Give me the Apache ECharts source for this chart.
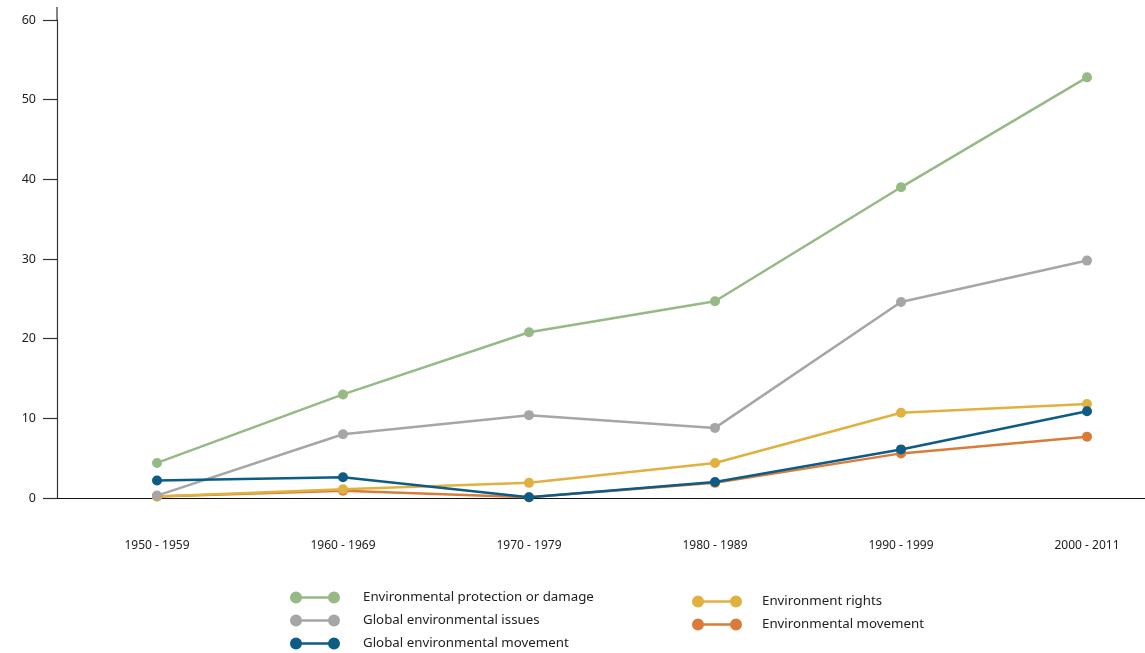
<!DOCTYPE html>
<html>
<head>
<meta charset="utf-8">
<title>Environmental topics by decade</title>
<script src="https://cdn.jsdelivr.net/npm/echarts@6/dist/echarts.min.js"></script>
<style>
  html, body { margin: 0; padding: 0; background: #fff; }
  #chart { width: 1145px; height: 653px; }
</style>
</head>
<body>
<div id="chart"></div>
<script>
// Decades on the horizontal axis
const decades = ['1950 - 1959', '1960 - 1969', '1970 - 1979', '1980 - 1989', '1990 - 1999', '2000 - 2011'];

// Counts per decade for each topic
const protectionOrDamage = [4.4, 13.0, 20.8, 24.7, 39.0, 52.8];
const globalIssues       = [0.3, 8.0, 10.4, 8.8, 24.6, 29.8];
const globalMovement     = [2.2, 2.6, 0.1, 2.0, 6.1, 10.9];
const environmentRights  = [0.2, 1.1, 1.9, 4.4, 10.7, 11.8];
const envMovement        = [0.2, 0.9, 0.1, 1.9, 5.6, 7.7];

const yTicks = { min: 0, max: 60, interval: 10 };

const names = {
  protection: 'Environmental protection or damage',
  issues: 'Global environmental issues',
  gmove: 'Global environmental movement',
  rights: 'Environment rights',
  emove: 'Environmental movement'
};

const colors = {
  protection: '#96b985',
  issues: '#a6a6a6',
  gmove: '#0d5c86',
  rights: '#e0b13f',
  emove: '#da7b3a'
};

// Legend glyph: a short bar with a dot at each end
const legendIcon = 'path://M0,6A6,6 0 1,1 12,6A6,6 0 1,1 0,6Z M38,6A6,6 0 1,1 50,6A6,6 0 1,1 38,6Z M6,4.7L44,4.7L44,7.3L6,7.3Z';

function lineSeries(name, data, color, z) {
  return {
    name: name,
    type: 'line',
    xAxisIndex: 1,
    yAxisIndex: 1,
    data: data,
    symbol: 'circle',
    symbolSize: 10,
    z: z,
    lineStyle: { color: color, width: 2.5 },
    itemStyle: { color: color },
    emphasis: { disabled: true },
    animation: false
  };
}

const chart = echarts.init(document.getElementById('chart'), null, { renderer: 'canvas' });

const GRID_TOP = 20, GRID_BOTTOM = 155;

chart.setOption({
  backgroundColor: '#ffffff',
  textStyle: { fontFamily: '"Noto Sans", "Open Sans", sans-serif' },
  grid: [
    // frame: carries the visible axis lines and the value scale
    { left: 57, right: 0, top: GRID_TOP, bottom: GRID_BOTTOM },
    // plot area: decade positions inset from the frame
    { left: 157, right: 58, top: GRID_TOP, bottom: GRID_BOTTOM }
  ],
  xAxis: [
    {
      gridIndex: 0, type: 'value', min: 0, max: 1,
      axisLine: { show: true, onZero: false, lineStyle: { color: '#111', width: 1.2 } },
      axisTick: { show: false }, axisLabel: { show: false }, splitLine: { show: false }
    },
    {
      gridIndex: 1, type: 'category', data: decades, boundaryGap: false,
      axisLine: { show: false }, axisTick: { show: false }, splitLine: { show: false },
      axisLabel: { color: '#222', fontSize: 12, margin: 42 }
    }
  ],
  yAxis: [
    {
      gridIndex: 0, type: 'value', min: yTicks.min, max: yTicks.max, interval: yTicks.interval,
      axisLine: { show: true, lineStyle: { color: '#333', width: 1.2 } },
      axisTick: { show: true, inside: false, length: 14, lineStyle: { color: '#333', width: 1.2 } },
      axisLabel: { color: '#222', fontSize: 12.5, margin: 21 },
      splitLine: { show: false }
    },
    {
      gridIndex: 1, type: 'value', min: yTicks.min, max: yTicks.max, interval: yTicks.interval,
      show: false
    }
  ],
  legend: [
    {
      data: [names.protection, names.issues, names.gmove],
      orient: 'vertical', left: 290, top: 591, padding: 0,
      itemWidth: 50, itemHeight: 12, itemGap: 10,
      icon: legendIcon,
      textStyle: { color: '#222', fontSize: 13.3, padding: [0, 0, 0, 18] },
      selectedMode: false
    },
    {
      data: [names.rights, names.emove],
      orient: 'vertical', left: 692, top: 595, padding: 0,
      itemWidth: 50, itemHeight: 12, itemGap: 10,
      icon: legendIcon,
      textStyle: { color: '#222', fontSize: 13.3, padding: [0, 0, 0, 15] },
      selectedMode: false
    }
  ],
  graphic: [
    // short run of the value axis above its top tick
    { type: 'line', shape: { x1: 57, y1: 7, x2: 57, y2: GRID_TOP }, style: { stroke: '#333', lineWidth: 1.2 }, silent: true }
  ],
  series: [
    lineSeries(names.emove, envMovement, colors.emove, 2),
    lineSeries(names.rights, environmentRights, colors.rights, 3),
    lineSeries(names.issues, globalIssues, colors.issues, 4),
    lineSeries(names.gmove, globalMovement, colors.gmove, 5),
    lineSeries(names.protection, protectionOrDamage, colors.protection, 6)
  ]
});
</script>
</body>
</html>
